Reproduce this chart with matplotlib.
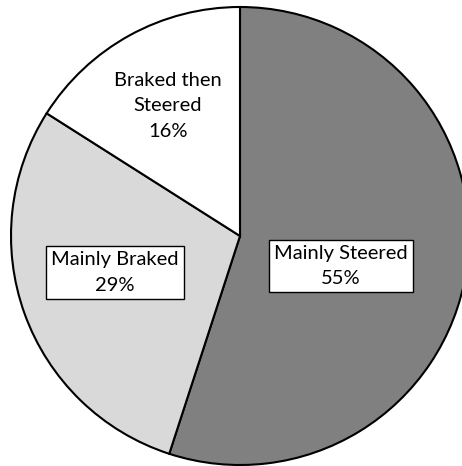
import matplotlib.pyplot as plt

# slice data, clockwise from the top
labels = ["Mainly Steered", "Mainly Braked", "Braked then\nSteered"]
shares = [55, 29, 16]
colors = ["#808080", "#d9d9d9", "#ffffff"]
label_pos = [(0.44, -0.13), (-0.546, -0.16), (-0.314, 0.568)]
boxed = [True, True, False]

plt.rcParams['font.family'] = ['Lato', 'DejaVu Sans']

fig = plt.figure(figsize=(4.62, 4.66), dpi=100)
ax = fig.add_axes([11 / 462, 1 / 466, 458 / 462, 458 / 466])
ax.pie(shares, colors=colors, startangle=90, counterclock=False,
       radius=1.0, wedgeprops=dict(edgecolor="black", linewidth=1.5))
ax.set_xlim(-1, 1)
ax.set_ylim(-1, 1)
ax.set_aspect('equal')
ax.axis('off')

for lab, val, pos, b in zip(labels, shares, label_pos, boxed):
    bbox = dict(boxstyle="square,pad=0.25", fc="white", ec="black", lw=1.0) if b else None
    ax.text(pos[0], pos[1], f"{lab}\n{val}%", ha="center", va="center",
            fontsize=14.5, linespacing=1.6, bbox=bbox)

for p in ax.patches:
    p.set_clip_on(False)

fig.savefig("out.png", dpi=100)
